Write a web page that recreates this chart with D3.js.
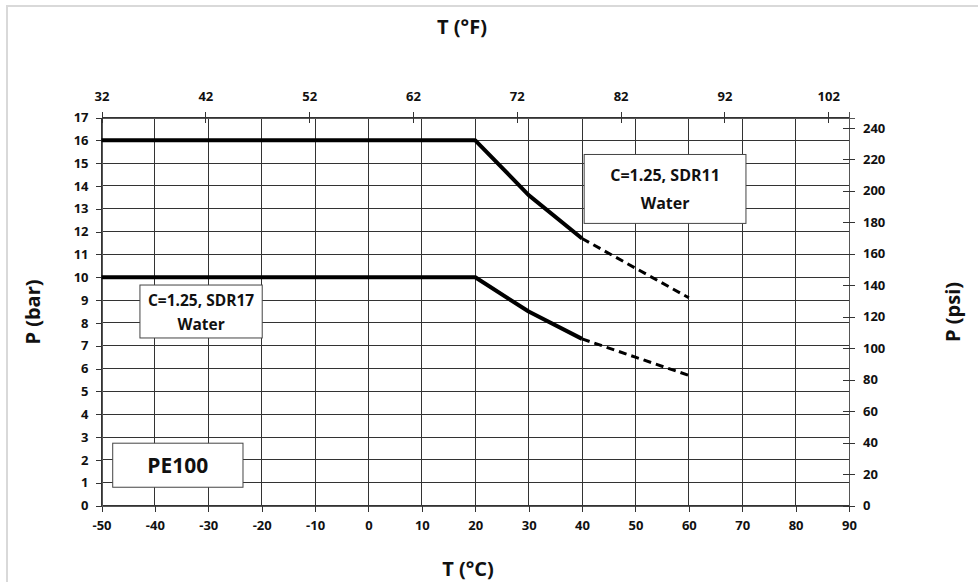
<!DOCTYPE html>
<html>
<head>
<meta charset="utf-8">
<script src="https://cdn.jsdelivr.net/npm/d3@7/dist/d3.min.js"></script>
<style>
  html, body { margin: 0; padding: 0; background: #fff; }
  svg { display: block; }
  text { font-family: "Open Sans", "Liberation Sans", sans-serif; font-weight: bold; fill: #111; }
</style>
</head>
<body>
<script>
// Temperature points (°C) and allowable pressure (bar) for each pipe class
const tempC = [-50, 20, 30, 40, 50, 60];
const sdr11Bar = [16, 16, 13.6, 11.7, 10.4, 9.1];
const sdr17Bar = [10, 10, 8.5, 7.3, 6.5, 5.7];
const solidCount = 4;          // first points drawn solid, rest dashed

const celsiusTicks = [-50, -40, -30, -20, -10, 0, 10, 20, 30, 40, 50, 60, 70, 80, 90];
const fahrenheitTicks = [32, 42, 52, 62, 72, 82, 92, 102];
const barTicks = [0, 1, 2, 3, 4, 5, 6, 7, 8, 9, 10, 11, 12, 13, 14, 15, 16, 17];
const psiTicks = [0, 20, 40, 60, 80, 100, 120, 140, 160, 180, 200, 220, 240];
const barToPsi = 14.5038;

const labels = [
  { lines: ["C=1.25, SDR11", "Water"], t0: 40.4, t1: 70.7, p0: 15.38, p1: 12.36, size: 16 },
  { lines: ["C=1.25, SDR17", "Water"], t0: -42.8, t1: -19.9, p0: 9.66, p1: 7.34, size: 15.5 },
  { lines: ["PE100"], t0: -47.9, t1: -23.5, p0: 2.73, p1: 0.8, size: 21 }
];

const W = 978, H = 582;
const m = { left: 101.5, right: 978 - 849, top: 117.5, bottom: 582 - 505.5 };

const svg = d3.select("body").append("svg").attr("width", W).attr("height", H);

// light frame around the chart area
svg.append("path")
  .attr("d", `M7,${H} V6 H${W}`)
  .attr("fill", "none").attr("stroke", "#d9d9d9").attr("stroke-width", 2);

const x = d3.scaleLinear().domain([-50, 90]).range([m.left, W - m.right]);
const xF = d3.scaleLinear().domain([32, 104]).range([m.left, W - m.right]);
const y = d3.scaleLinear().domain([0, 17]).range([H - m.bottom, m.top]);
const yPsi = d3.scaleLinear().domain([0, 17 * barToPsi]).range([H - m.bottom, m.top]);

const fmt = d => String(d);

// grid
const grid = svg.append("g").attr("stroke", "#333").attr("stroke-width", 1).attr("shape-rendering", "crispEdges");
grid.selectAll("line.v").data(celsiusTicks).join("line")
  .attr("x1", d => x(d)).attr("x2", d => x(d))
  .attr("y1", y(0)).attr("y2", y(17));
grid.selectAll("line.h").data(barTicks).join("line")
  .attr("x1", x(-50)).attr("x2", x(90))
  .attr("y1", d => y(d)).attr("y2", d => y(d));

function styleAxis(g, size) {
  g.selectAll(".domain").attr("stroke", "#555").attr("shape-rendering", "crispEdges");
  g.selectAll(".tick line").attr("stroke", "#333").attr("shape-rendering", "crispEdges");
  g.selectAll(".tick text").attr("font-size", size).attr("font-weight", "bold")
    .attr("font-family", '"Open Sans", "Liberation Sans", sans-serif').attr("fill", "#111");
}

// bottom °C axis
const gx = svg.append("g").attr("transform", `translate(0,${y(0)})`)
  .call(d3.axisBottom(x).tickValues(celsiusTicks).tickSize(6).tickPadding(9).tickFormat(fmt));
styleAxis(gx, 13);

// left bar axis
const gy = svg.append("g").attr("transform", `translate(${x(-50)},0)`)
  .call(d3.axisLeft(y).tickValues(barTicks).tickSize(6).tickPadding(7).tickFormat(fmt));
styleAxis(gy, 13);

// top °F axis (cross ticks)
const gt = svg.append("g").attr("transform", `translate(0,${y(17)})`)
  .call(d3.axisTop(xF).tickValues(fahrenheitTicks).tickSize(6).tickPadding(11).tickFormat(fmt));
gt.selectAll(".tick line").attr("y1", 5);
styleAxis(gt, 13);

// right psi axis (cross ticks)
const gr = svg.append("g").attr("transform", `translate(${x(90)},0)`)
  .call(d3.axisRight(yPsi).tickValues(psiTicks).tickSize(6).tickPadding(8).tickFormat(fmt));
gr.selectAll(".tick line").attr("x1", -6);
styleAxis(gr, 13);

// pressure curves
const pts = (vals) => tempC.map((t, i) => [t, vals[i]]);
const line = d3.line().x(d => x(d[0])).y(d => y(d[1]));
[sdr11Bar, sdr17Bar].forEach(vals => {
  const p = pts(vals);
  svg.append("path").attr("d", line(p.slice(0, solidCount)))
    .attr("fill", "none").attr("stroke", "#000").attr("stroke-width", 4)
    .attr("stroke-linejoin", "round");
  svg.append("path").attr("d", line(p.slice(solidCount - 1)))
    .attr("fill", "none").attr("stroke", "#000").attr("stroke-width", 3)
    .attr("stroke-dasharray", "8,5");
});

// annotation boxes
labels.forEach(l => {
  const x0 = x(l.t0), x1 = x(l.t1), y0 = y(l.p0), y1 = y(l.p1);
  const g = svg.append("g");
  g.append("rect").attr("x", x0).attr("y", y0).attr("width", x1 - x0).attr("height", y1 - y0)
    .attr("fill", "#fff").attr("stroke", "#444").attr("stroke-width", 1);
  const cx = (x0 + x1) / 2, cy = (y0 + y1) / 2;
  const gap = l.size > 15.8 ? 28 : 24;
  l.lines.forEach((s, i) => {
    g.append("text").attr("x", cx)
      .attr("y", cy + (i - (l.lines.length - 1) / 2) * gap)
      .attr("text-anchor", "middle").attr("dominant-baseline", "central")
      .attr("font-size", l.size).text(s);
  });
});

// axis titles
svg.append("text").attr("x", 462).attr("y", 26).attr("text-anchor", "middle")
  .attr("dominant-baseline", "central").attr("font-size", 20).text("T (°F)");
svg.append("text").attr("x", 468).attr("y", 568).attr("text-anchor", "middle")
  .attr("dominant-baseline", "central").attr("font-size", 20).text("T (°C)");
svg.append("text").attr("transform", "translate(32,312) rotate(-90)").attr("text-anchor", "middle")
  .attr("dominant-baseline", "central").attr("font-size", 20).text("P (bar)");
svg.append("text").attr("transform", "translate(952,312) rotate(-90)").attr("text-anchor", "middle")
  .attr("dominant-baseline", "central").attr("font-size", 20).text("P (psi)");
</script>
</body>
</html>
